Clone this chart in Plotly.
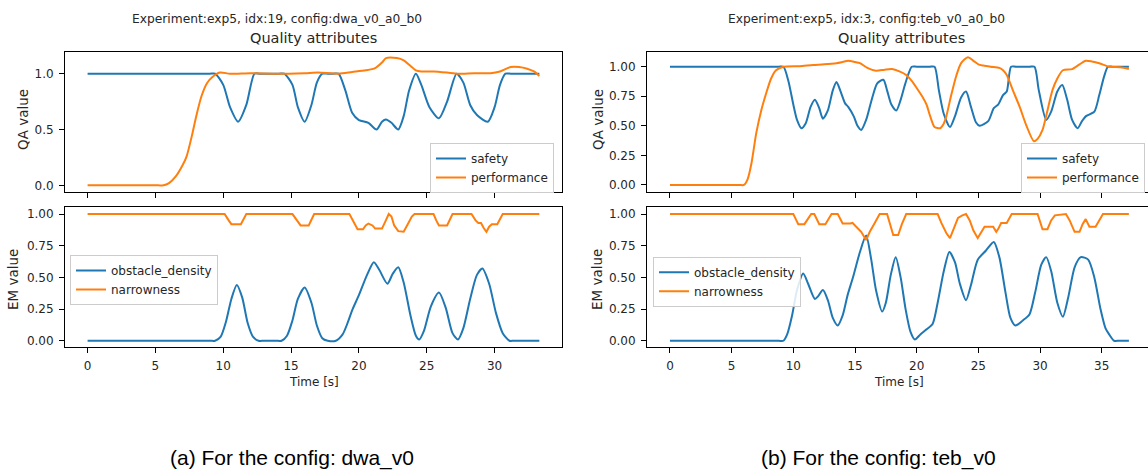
import plotly.graph_objects as go

# ---------------- data ----------------
# (a) dwa_v0
dwa_safety_t = [0, 9.0, 9.4, 10.0, 10.5, 11.1, 11.7, 12.3, 12.7, 14.1, 14.5, 15.1, 15.5, 16.0, 16.5, 16.9, 17.3,
                17.7, 18.1, 18.5, 19.0, 19.5, 20.0, 20.7, 21.3, 21.7, 22.0, 22.4, 22.9, 23.3, 23.7, 24.2, 24.6,
                25.2, 25.9, 26.5, 27.2, 27.7, 28.2, 28.7, 29.5, 30.0, 30.4, 30.8, 31.2, 32.9, 33.3]
dwa_safety = [1.0, 1.0, 1.0, 0.9, 0.7, 0.57, 0.72, 1.0, 1.0, 1.0, 1.0, 0.9, 0.7, 0.57, 0.72, 0.92, 1.0,
              1.0, 1.0, 1.0, 0.85, 0.65, 0.585, 0.56, 0.50, 0.57, 0.59, 0.56, 0.50, 0.62, 0.85, 1.0, 0.9,
              0.7, 0.60, 0.75, 1.0, 0.92, 0.72, 0.63, 0.57, 0.7, 0.9, 1.0, 1.0, 1.0, 1.0]

dwa_perf_t = [0, 5.2, 5.6, 6.0, 6.5, 7.0, 7.3, 7.7, 8.0, 8.4, 8.8, 9.2, 9.75, 10.5, 12, 14, 16, 17, 18.5, 19.5,
              20.5, 21.2, 21.7, 22.0, 22.8, 23.3, 23.7, 24.2, 24.6, 25.5, 26.5, 27.3, 28.5, 29.7, 30.4, 31.2,
              31.8, 32.4, 32.9, 33.3]
dwa_perf = [0, 0, 0, 0.02, 0.08, 0.18, 0.26, 0.45, 0.615, 0.8, 0.915, 0.97, 1.01, 1.0, 1.005, 1.0, 1.005, 1.01,
            1.0, 1.015, 1.03, 1.05, 1.1, 1.14, 1.14, 1.12, 1.08, 1.03, 1.02, 1.02, 1.01, 1.0, 1.005, 1.005,
            1.02, 1.06, 1.06, 1.045, 1.02, 0.98]

dwa_obst_t = [0, 9.0, 9.4, 9.8, 10.2, 10.6, 11.0, 11.4, 11.8, 12.2, 12.6, 13.0, 13.9, 14.3, 14.7, 15.1, 15.5,
              16.0, 16.5, 16.9, 17.3, 17.7, 18.3, 18.8, 19.2, 19.5, 20.0, 20.6, 21.1, 21.5, 22.1, 22.5, 22.9,
              23.3, 23.8, 24.2, 24.45, 24.8, 25.3, 25.9, 26.4, 26.9, 27.3, 27.7, 28.2, 28.7, 29.1, 29.6,
              30.1, 30.6, 31.1, 31.4, 31.8, 32.9, 33.3]
dwa_obst = [0, 0, 0, 0.03, 0.15, 0.33, 0.44, 0.34, 0.14, 0.03, 0, 0, 0, 0, 0.04, 0.16, 0.33,
            0.42, 0.3, 0.12, 0.02, 0, 0, 0.05, 0.15, 0.24, 0.36, 0.52, 0.62, 0.56, 0.45, 0.53, 0.58,
            0.46, 0.2, 0.04, 0.01, 0.08, 0.27, 0.38, 0.26, 0.06, 0.01, 0.1, 0.33, 0.52, 0.57, 0.45,
            0.22, 0.06, 0.0, 0, 0, 0, 0]

dwa_narrow_t = [0, 10.1, 10.4, 10.6, 11.3, 11.5, 11.7, 15.1, 15.4, 15.7, 16.3, 16.5, 16.7, 19.3, 19.6, 19.9,
                20.3, 20.5, 20.7, 21.0, 21.2, 21.7, 21.9, 22.2, 22.4, 22.6, 22.9, 23.3, 23.6, 23.9, 24.1, 25.5,
                25.7, 25.9, 26.5, 26.7, 26.9, 28.3, 28.6, 28.8, 29.0, 29.2, 29.4, 29.6, 29.8, 30.2, 30.4, 30.6,
                33.3]
dwa_narrow = [1, 1, 0.95, 0.92, 0.92, 0.96, 1, 1, 0.95, 0.91, 0.91, 0.96, 1, 1, 0.94, 0.88,
              0.88, 0.91, 0.925, 0.91, 0.885, 0.885, 0.93, 1.0, 0.98, 0.91, 0.865, 0.86, 0.92, 0.98, 1.0, 1.0,
              0.95, 0.91, 0.91, 0.96, 1.0, 1.0, 0.95, 0.93, 0.93, 0.89, 0.86, 0.9, 0.92, 0.92, 0.96, 1.0,
              1.0]

# (b) teb_v0
teb_safety_t = [0, 8.8, 9.2, 9.6, 10.0, 10.3, 10.65, 11.0, 11.4, 11.75, 12.1, 12.4, 12.8, 13.2, 13.5, 13.8,
                14.2, 14.45, 14.9, 15.2, 15.5, 15.9, 16.3, 16.8, 17.3, 17.6, 17.95, 18.35, 18.7, 19.0, 19.3,
                19.6, 20.0, 21.05, 21.45, 21.8, 22.2, 22.7, 23.1, 23.6, 24.0, 24.4, 24.8, 25.1, 25.8, 26.25,
                26.6, 27.0, 27.3, 27.65, 28.05, 29.15, 29.55, 29.9, 30.5, 30.9, 31.4, 31.8, 32.2, 32.6, 33.05,
                33.4, 33.7, 34.4, 34.8, 35.2, 35.5, 35.9, 36.8, 37.2]
teb_safety = [1, 1, 1, 0.88, 0.68, 0.55, 0.48, 0.52, 0.66, 0.72, 0.65, 0.56, 0.63, 0.8, 0.87, 0.8,
              0.69, 0.66, 0.58, 0.5, 0.465, 0.55, 0.7, 0.86, 0.89, 0.8, 0.68, 0.63, 0.72, 0.83, 0.93,
              1.0, 1.0, 1.0, 1.0, 0.8, 0.6, 0.49, 0.58, 0.74, 0.79, 0.66, 0.53, 0.5, 0.54, 0.65,
              0.68, 0.76, 0.79, 1.0, 1.0, 1.0, 1.0, 0.8, 0.55, 0.62, 0.79, 0.845, 0.72, 0.55, 0.48,
              0.54, 0.58, 0.62, 0.76, 0.92, 1.0, 1.0, 1.0, 1.0]

teb_perf_t = [0, 5.6, 6.0, 6.3, 6.6, 7.0, 7.4, 7.8, 8.2, 8.6, 9.2, 10.5, 11.6, 12.5, 13.5, 14.0, 14.45, 15.0,
              15.4, 16.0, 16.7, 17.4, 18.0, 18.6, 19.15, 19.6, 20.0, 20.5, 20.8, 21.1, 21.45, 21.9, 22.2, 22.4,
              22.8, 23.2, 23.6, 24.15, 24.6, 25.0, 25.4, 26.0, 26.7, 27.0, 27.3, 27.8, 28.35, 28.9, 29.5,
              29.8, 30.2, 30.6, 31.0, 31.4, 31.85, 32.6, 33.2, 33.7, 34.2, 34.8, 35.6, 36.5, 37.2]
teb_perf = [0, 0, 0, 0.05, 0.18, 0.44, 0.63, 0.775, 0.9, 0.97, 1.0, 1.005, 1.015, 1.02, 1.03, 1.04, 1.05, 1.04,
            1.03, 0.99, 0.966, 0.975, 0.98, 0.96, 0.93, 0.88, 0.82, 0.74, 0.68, 0.58, 0.49, 0.48, 0.52, 0.58,
            0.76, 0.92, 1.03, 1.08, 1.05, 1.02, 1.01, 1.0, 0.99, 0.97, 0.93, 0.8, 0.66, 0.5, 0.37,
            0.39, 0.465, 0.63, 0.8, 0.9, 0.97, 0.98, 1.02, 1.05, 1.045, 1.03, 1.0, 0.995, 0.98]

teb_obst_t = [0, 8.8, 9.2, 9.5, 9.9, 10.3, 10.8, 11.2, 11.75, 12.0, 12.4, 12.8, 13.2, 13.6, 14.0, 14.4, 14.85,
              15.4, 15.9, 16.3, 16.7, 17.2, 17.5, 17.9, 18.3, 18.7, 19.1, 19.5, 19.85, 20.3, 20.8, 21.3, 21.7,
              22.2, 22.65, 23.1, 23.5, 24.0, 24.4, 24.95, 25.6, 26.25, 26.7, 27.2, 27.6, 28.0, 28.6, 29.15,
              29.6, 30.1, 30.5, 30.9, 31.4, 31.85, 32.3, 32.8, 33.3, 33.9, 34.4, 34.9, 35.3, 35.6, 36.0,
              36.4, 36.8, 37.2]
teb_obst = [0, 0, 0, 0.05, 0.2, 0.4, 0.53, 0.45, 0.33, 0.35, 0.40, 0.32, 0.18, 0.12, 0.2, 0.36, 0.505,
            0.7, 0.83, 0.65, 0.4, 0.23, 0.3, 0.52, 0.66, 0.5, 0.25, 0.07, 0.01, 0.05, 0.09, 0.135, 0.3,
            0.55, 0.70, 0.62, 0.45, 0.32, 0.44, 0.64, 0.71, 0.78, 0.66, 0.38, 0.18, 0.12, 0.16, 0.21,
            0.38, 0.6, 0.66, 0.55, 0.3, 0.19, 0.35, 0.58, 0.66, 0.64, 0.5, 0.25, 0.1, 0.05, 0.0,
            0, 0, 0]

teb_narrow_t = [0, 10.0, 10.2, 10.4, 10.9, 11.2, 11.45, 11.7, 11.9, 12.1, 12.6, 12.9, 13.1, 13.6, 13.8, 14.0,
                14.6, 14.8, 15.0, 15.2, 15.5, 15.9, 16.2, 16.6, 16.8, 17.0, 17.6, 17.85, 18.1, 18.5, 18.8,
                19.15, 21.7, 22.0, 22.4, 22.7, 23.0, 23.35, 23.7, 24.0, 24.3, 24.6, 24.95, 25.2, 25.5, 26.2,
                26.45, 26.65, 26.85, 27.3, 27.5, 27.7, 29.8, 30.0, 30.2, 30.6, 30.9, 31.2, 32.1, 32.4, 32.8,
                33.2, 33.45, 33.7, 33.85, 34.0, 34.5, 34.8, 35.1, 37.2]
teb_narrow = [1, 1, 0.96, 0.92, 0.92, 0.97, 1.0, 1.0, 0.96, 0.92, 0.92, 0.97, 1.0, 1.0, 0.96, 0.926,
              0.926, 0.93, 0.91, 0.89, 0.86, 0.795, 0.86, 0.93, 0.97, 1.0, 1.0, 0.92, 0.834, 0.834, 0.92,
              1.0, 1.0, 0.93, 0.85, 0.81, 0.88, 0.97, 0.99, 1.0, 0.95, 0.87, 0.81, 0.85, 0.9, 0.9,
              0.86, 0.89, 0.93, 0.93, 0.97, 1.0, 1.0, 0.94, 0.88, 0.88, 0.95, 0.99, 1.0, 0.95, 0.86,
              0.86, 0.92, 0.96, 0.93, 0.9, 0.9, 0.95, 1.0, 1.0]

titles = ["Experiment:exp5, idx:19, config:dwa_v0_a0_b0", "Experiment:exp5, idx:3, config:teb_v0_a0_b0"]
subtitle = "Quality attributes"
captions = ["(a) For the config: dwa_v0", "(b) For the config: teb_v0"]
x_ticks_a = [0, 5, 10, 15, 20, 25, 30]
x_ticks_b = [0, 5, 10, 15, 20, 25, 30, 35]
qa_ticks_a = [0, 0.5, 1.0]
em_ticks = [0, 0.25, 0.5, 0.75, 1.0]

# ---------------- figure ----------------
W, H = 1148, 472
BLUE, ORANGE = "#1f77b4", "#ff7f0e"
FONT = "DejaVu Sans"
TXT = "#262626"


def px(x):
    return x / W


def py(y):
    return 1 - y / H


fig = go.Figure()
lw = 2


def add(t, v, name, color, xa, ya, leg, shape="spline"):
    fig.add_trace(go.Scatter(x=t, y=v, mode="lines", name=name, xaxis=xa, yaxis=ya, legend=leg,
                             line=dict(color=color, width=lw, shape=shape, smoothing=0.7)))


add(dwa_safety_t, dwa_safety, "safety", BLUE, "x", "y", "legend")
add(dwa_perf_t, dwa_perf, "performance", ORANGE, "x", "y", "legend")
add(dwa_obst_t, dwa_obst, "obstacle_density", BLUE, "x2", "y2", "legend2")
add(dwa_narrow_t, dwa_narrow, "narrowness", ORANGE, "x2", "y2", "legend2", "linear")
add(teb_safety_t, teb_safety, "safety", BLUE, "x3", "y3", "legend3")
add(teb_perf_t, teb_perf, "performance", ORANGE, "x3", "y3", "legend3")
add(teb_obst_t, teb_obst, "obstacle_density", BLUE, "x4", "y4", "legend4")
add(teb_narrow_t, teb_narrow, "narrowness", ORANGE, "x4", "y4", "legend4", "linear")

axis_common = dict(showline=True, linecolor="black", linewidth=1, mirror=True, ticks="outside",
                   ticklen=5, tickwidth=1, tickcolor="black", showgrid=False, zeroline=False,
                   ticklabelstandoff=3, tickfont=dict(family=FONT, size=12, color=TXT))

LX = [px(65), px(562)]
RX = [px(647), 1.0]
TY = [py(191.7), py(51.7)]
BY = [py(346.7), py(206.7)]

fig.update_layout(
    width=W, height=H, margin=dict(l=0, r=0, t=0, b=0),
    plot_bgcolor="white", paper_bgcolor="white",
    xaxis=dict(axis_common, domain=LX, range=[-1.665, 34.97], anchor="y", tickvals=x_ticks_a,
               showticklabels=False),
    yaxis=dict(axis_common, domain=TY, range=[-0.057, 1.197], anchor="x", tickvals=qa_ticks_a, tickformat=".1f"),
    xaxis2=dict(axis_common, domain=LX, range=[-1.665, 34.97], anchor="y2", tickvals=x_ticks_a),
    yaxis2=dict(axis_common, domain=BY, range=[-0.047, 1.058], anchor="x2", tickvals=em_ticks, tickformat=".2f"),
    xaxis3=dict(axis_common, domain=RX, range=[-1.86, 38.75], anchor="y3", tickvals=x_ticks_b,
                showticklabels=False),
    yaxis3=dict(axis_common, domain=TY, range=[-0.057, 1.127], anchor="x3", tickvals=em_ticks, tickformat=".2f"),
    xaxis4=dict(axis_common, domain=RX, range=[-1.86, 38.75], anchor="y4", tickvals=x_ticks_b),
    yaxis4=dict(axis_common, domain=BY, range=[-0.047, 1.058], anchor="x4", tickvals=em_ticks, tickformat=".2f"),
    showlegend=True,
)

leg_common = dict(xref="paper", yref="paper", xanchor="left", yanchor="top", bgcolor="rgba(255,255,255,0.85)",
                  bordercolor="#cccccc", borderwidth=1, font=dict(family=FONT, size=12, color=TXT),
                  tracegroupgap=0, itemwidth=30)
fig.update_layout(
    legend=dict(leg_common, x=px(430), y=py(143)),
    legend2=dict(leg_common, x=px(70), y=py(255)),
    legend3=dict(leg_common, x=px(1021), y=py(143)),
    legend4=dict(leg_common, x=px(653), y=py(256.7)),
)

ann = []


def note(x, y, text, size, family=FONT, color=TXT, angle=0):
    ann.append(dict(x=px(x), y=py(y), xref="paper", yref="paper", text=text, showarrow=False,
                    xanchor="center", yanchor="middle", textangle=angle,
                    font=dict(family=family, size=size, color=color)))


for cx1, cx2, title in [(277, 314, titles[0]), (866, 901.5, titles[1])]:
    note(cx1, 19, title, 12.25)
    note(cx2, 38, subtitle, 14.5)
for cx in (313.5, 899):
    note(cx, 382, "Time [s]", 12)
for x_qa, x_em in [(23, 13), (598, 597)]:
    note(x_qa, 120, "QA value", 13.5, angle=-90)
    note(x_em, 280, "EM value", 13.5, angle=-90)
for cx, cap in [(292, captions[0]), (878, captions[1])]:
    note(cx, 458, cap, 21, family="Liberation Sans", color="black")
fig.update_layout(annotations=ann)

fig.write_html("out.html")
